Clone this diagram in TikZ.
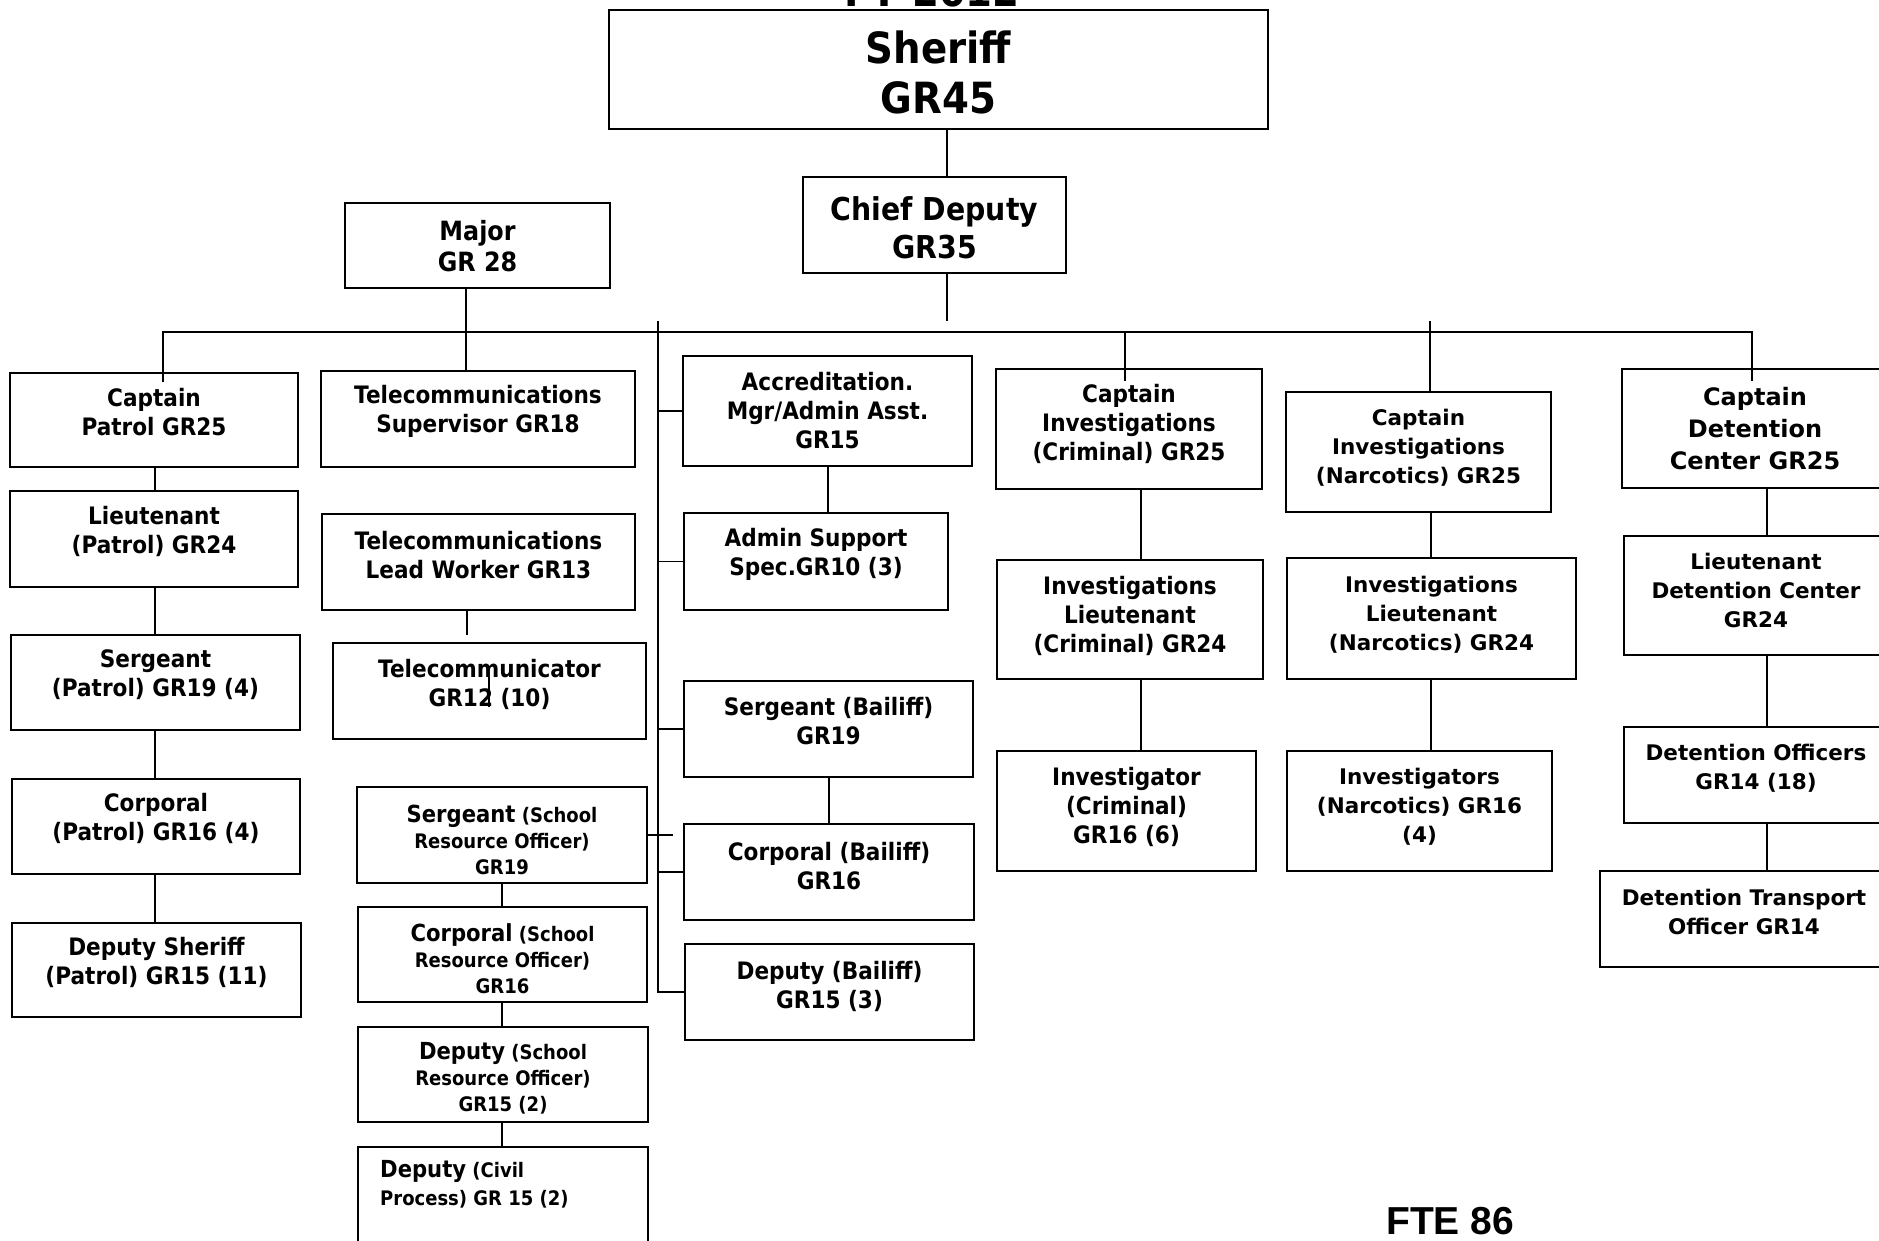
\documentclass[tikz,border=0pt]{standalone}
\usepackage{fontspec}
\newfontfamily\tah[FakeStretch=0.9]{DejaVu Sans}
\newfontfamily\ver{DejaVu Sans}
\newfontfamily\ari{Liberation Sans}
\newcommand\bgw[1]{{\fontsize{23.5}{26}\selectfont #1}}
% style, name, x1, y1, x2, y2, text shift, text
\newcommand\bx[8]{%
  \node[box,minimum width={(#5-#3)*1pt},minimum height={(#6-#4)*1pt}] (#2) at ({(#3+#5)/2},{(#4+#6)/2}) {};
  \node[#1] (#2t) at ([yshift=#7pt]#2.center) {#8};}
\begin{document}
\begin{tikzpicture}[x=1pt,y=-1pt,
  box/.style={draw,line width=2.2pt,inner sep=0pt},
  ln/.style={line width=1.8pt},
  T/.style={align=center,inner sep=0pt,font=\tah\bfseries\fontsize{24}{29}\selectfont},
  S/.style={align=center,inner sep=0pt,font=\tah\bfseries\fontsize{20}{26}\selectfont},
  V/.style={align=center,inner sep=0pt,font=\ver\bfseries\fontsize{21.5}{29}\selectfont},
  VB/.style={align=center,inner sep=0pt,font=\ver\bfseries\fontsize{24}{32}\selectfont},
  TH/.style={align=center,inner sep=0pt,font=\tah\bfseries\fontsize{43}{50}\selectfont},
  TC/.style={align=center,inner sep=0pt,font=\tah\bfseries\fontsize{31.5}{38}\selectfont},
  TM/.style={align=center,inner sep=0pt,font=\tah\bfseries\fontsize{26.5}{31}\selectfont}]
\fill[white] (0,0) rectangle (1879,1240);
\useasboundingbox (0,0) rectangle (1879,1240);

% title (cut off at top)
\node[anchor=base,inner sep=0pt,font=\tah\bfseries\fontsize{43}{50}\selectfont] (title) at (932,6) {FY 2012};

% top
\bx{TH}{Sheriff}{609}{10}{1268}{129}{-3}{Sheriff\\GR45}
\bx{TC}{Chief}{803}{177}{1066}{273}{-3}{Chief Deputy\\GR35}
\bx{TM}{Major}{345}{203}{610}{288}{-1}{Major\\GR 28}

% column 1
\bx{T}{CapPatrol}{10}{373}{298}{467}{8}{Captain\\Patrol GR25}
\bx{T}{LtPatrol}{10}{491}{298}{587}{8}{Lieutenant\\(Patrol) GR24}
\bx{T}{SgtPatrol}{11}{635}{300}{730}{8}{Sergeant\\(Patrol) GR19 (4)}
\bx{T}{CplPatrol}{12}{779}{300}{874}{8}{Corporal\\(Patrol) GR16 (4)}
\bx{T}{DepPatrol}{12}{923}{301}{1017}{8}{Deputy Sheriff\\(Patrol) GR15 (11)}

% column 2
\bx{T}{TelSup}{321}{371}{635}{467}{8}{Telecommunications\\Supervisor GR18}
\bx{T}{TelLead}{322}{514}{635}{610}{7}{Telecommunications\\Lead Worker GR13}
\bx{T}{Telcom}{333}{643}{646}{739}{7}{Telecommunicator\\GR12 (10)}
\bx{S}{SgtSRO}{357}{787}{647}{883}{-5}{\bgw{Sergeant} (School\\Resource Officer)\\GR19}
\bx{S}{CplSRO}{358}{907}{647}{1002}{-4}{\bgw{Corporal} (School\\Resource Officer)\\GR16}
\bx{S}{DepSRO}{358}{1027}{648}{1122}{-4}{\bgw{Deputy} (School\\Resource Officer)\\GR15 (2)}
\node[box,minimum width=290pt,minimum height=113pt] (CivSRO) at (503,1203.5) {};
\node[S,align=left,anchor=north west,font=\tah\bfseries\fontsize{20}{28}\selectfont] (CivSROt) at (380,1160) {\bgw{Deputy} (Civil\\Process) GR 15 (2)};

% column 3
\bx{T}{Accred}{683}{356}{972}{466}{0}{Accreditation.\\Mgr/Admin Asst.\\GR15}
\bx{T}{AdminSup}{684}{513}{948}{610}{7}{Admin Support\\Spec.GR10 (3)}
\bx{T}{SgtBail}{684}{681}{973}{777}{8}{Sergeant (Bailiff)\\GR19}
\bx{T}{CplBail}{684}{824}{974}{920}{6}{Corporal (Bailiff)\\GR16}
\bx{T}{DepBail}{685}{944}{974}{1040}{6}{Deputy (Bailiff)\\GR15 (3)}

% column 4
\bx{T}{CapCrim}{996}{369}{1262}{489}{5}{Captain\\Investigations\\(Criminal) GR25}
\bx{T}{LtCrim}{997}{560}{1263}{679}{4}{Investigations\\Lieutenant\\(Criminal) GR24}
\bx{T}{InvCrim}{997}{751}{1256}{871}{4}{Investigator\\(Criminal)\\GR16 (6)}

% column 5
\bx{V}{CapNarc}{1286}{392}{1551}{512}{4}{Captain\\Investigations\\(Narcotics) GR25}
\bx{V}{LtNarc}{1287}{558}{1576}{679}{4}{Investigations\\Lieutenant\\(Narcotics) GR24}
\bx{V}{InvNarc}{1287}{751}{1552}{871}{4}{Investigators\\(Narcotics) GR16\\(4)}

% column 6
\bx{VB}{CapDet}{1622}{369}{1888}{488}{0}{Captain\\Detention\\Center GR25}
\bx{V}{LtDet}{1624}{536}{1888}{655}{5}{Lieutenant\\Detention Center\\GR24}
\bx{V}{DetOff}{1624}{727}{1888}{823}{7}{Detention Officers\\GR14 (18)}
\bx{V}{DetTrans}{1600}{871}{1888}{967}{7}{Detention Transport\\Officer GR14}

\node[anchor=base west,inner sep=0pt,font=\ari\bfseries\fontsize{39}{44}\selectfont] (fte) at (1386,1234) {FTE 86};

% coordinates
\coordinate (chB) at (947,321);
\coordinate (barL) at (163,332);
\coordinate (barR) at (1752,332);
\coordinate (cpIn) at (163,382);
\coordinate (cdIn) at (1752,381);
\coordinate (crB) at (1125,332);
\coordinate (ccIn) at (1125,381);
\coordinate (nrT) at (1430,321);
\coordinate (vtT) at (658,321);
\coordinate (c1) at (155,0);
\coordinate (mj) at (466,0);
\coordinate (tlE) at (467,635);
\coordinate (sro) at (502,0);
\coordinate (sroE) at (673,0);
\coordinate (ac) at (828,0);
\coordinate (sb) at (829,0);
\coordinate (cr) at (1141,0);
\coordinate (nr) at (1431,0);
\coordinate (dt) at (1767,0);
\coordinate (tk1) at (489,677);
\coordinate (tk2) at (489,707);

% connectors
\draw[ln] (Sheriff.south -| chB) -- (Chief.north -| chB);
\draw[ln] (Chief.south -| chB) -- (chB);
\draw[ln] (cpIn) -- (barL) -- (barR) -- (cdIn);
\draw[ln] (crB) -- (ccIn);
\draw[ln] (nrT) -- (CapNarc.north -| nrT);
\draw[ln] (Major.south -| mj) -- (TelSup.north -| mj);
\draw[ln] (TelLead.south -| tlE) -- (tlE);
\draw[line width=1.2pt] (tk1) -- (tk2);

\draw[ln] (CapPatrol.south -| c1) -- (LtPatrol.north -| c1);
\draw[ln] (LtPatrol.south -| c1) -- (SgtPatrol.north -| c1);
\draw[ln] (SgtPatrol.south -| c1) -- (CplPatrol.north -| c1);
\draw[ln] (CplPatrol.south -| c1) -- (DepPatrol.north -| c1);

\draw[ln] (SgtSRO.south -| sro) -- (CplSRO.north -| sro);
\draw[ln] (CplSRO.south -| sro) -- (DepSRO.north -| sro);
\draw[ln] (DepSRO.south -| sro) -- (CivSRO.north -| sro);
\draw[ln] (SgtSRO.east) -- (SgtSRO.east -| sroE);

\draw[ln] (vtT) -- (vtT |- DepBail.west) -- (DepBail.west);
\foreach \n in {Accred,AdminSup,SgtBail,CplBail}
  \draw[ln] (vtT |- \n.west) -- (\n.west);
\draw[ln] (Accred.south -| ac) -- (AdminSup.north -| ac);
\draw[ln] (SgtBail.south -| sb) -- (CplBail.north -| sb);

\draw[ln] (CapCrim.south -| cr) -- (LtCrim.north -| cr);
\draw[ln] (LtCrim.south -| cr) -- (InvCrim.north -| cr);

\draw[ln] (CapNarc.south -| nr) -- (LtNarc.north -| nr);
\draw[ln] (LtNarc.south -| nr) -- (InvNarc.north -| nr);

\draw[ln] (CapDet.south -| dt) -- (LtDet.north -| dt);
\draw[ln] (LtDet.south -| dt) -- (DetOff.north -| dt);
\draw[ln] (DetOff.south -| dt) -- (DetTrans.north -| dt);
\end{tikzpicture}
\end{document}
